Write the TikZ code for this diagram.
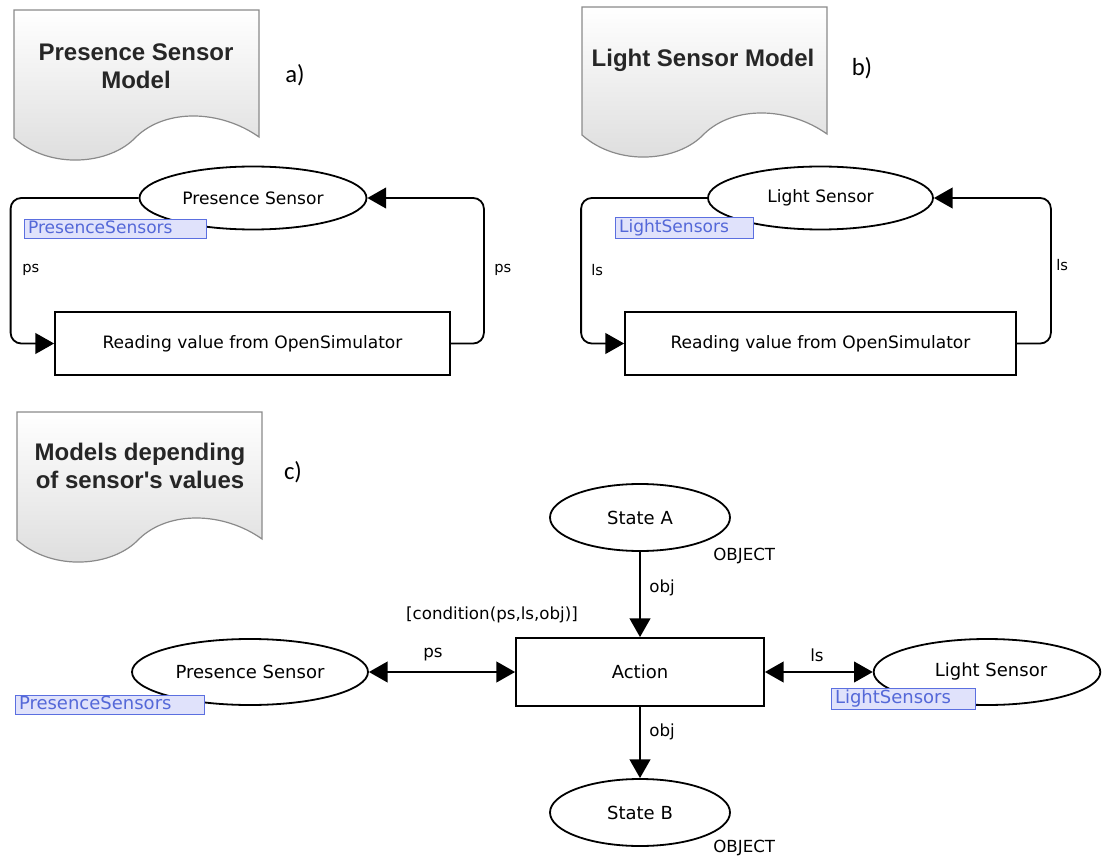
\documentclass[tikz,border=0pt]{standalone}
\usepackage{fontspec}
\setmainfont{DejaVu Sans}
\newfontfamily\titlefont{Liberation Sans}
\newfontfamily\tagfont{Carlito}
\usetikzlibrary{arrows.meta,shapes.geometric}
\definecolor{tokfill}{HTML}{E0E2FB}
\definecolor{tokline}{HTML}{5B6FE0}
\definecolor{toktext}{HTML}{5468D8}
\definecolor{docline}{HTML}{8A8A8A}
\definecolor{docshade}{HTML}{DCDCDC}

\tikzset{
  docpic/.pic={
    \draw[line width=0.9pt, draw=docline, top color=white, bottom color=docshade]
      (0,0) -- (245,0) -- (245,127)
      .. controls (207,100) and (152,98) .. (122,127)
      .. controls (96,155) and (36,160) .. (0,128) -- cycle;
  }
}

\begin{document}
\begin{tikzpicture}[x=0.75pt,y=-0.75pt,line width=1.35pt,
  place/.style={ellipse, draw, inner sep=0pt, fill=white},
  trans/.style={rectangle, draw, inner sep=0pt, fill=white},
  tok/.style={draw=tokline, fill=tokfill, line width=0.8pt, text=toktext,
    anchor=north west, inner xsep=2.6pt, inner ysep=0pt, align=left,
    text height=9.6pt, text depth=2.6pt},
  tip/.style={Triangle[length=14pt,width=15.5pt]},
  arc/.style={-{Triangle[length=14pt,width=15.5pt]}, rounded corners=8pt},
  one/.style={-{Triangle[length=14pt,width=15.5pt]}},
  dual/.style={{Triangle[length=14pt,width=15.5pt]}-{Triangle[length=14pt,width=15.5pt]}},
  fab/.style={font=\fontsize{12.8}{15}\selectfont},
  fc/.style={font=\fontsize{13.5}{16}\selectfont},
  lab/.style={font=\fontsize{11}{13}\selectfont, anchor=west},
  labc/.style={font=\fontsize{12.5}{15}\selectfont},
  title/.style={font=\titlefont\bfseries\fontsize{18}{21}\selectfont, text=black!85, align=center},
  tag/.style={font=\tagfont\fontsize{18.5}{22}\selectfont}
]
\useasboundingbox (0,0) rectangle (1103,859);

% ---------- document headers ----------
\pic at (14,10) {docpic};
\pic at (582,7) {docpic};
\pic at (17,412) {docpic};
\node[title] (tA) at (136,66) {Presence Sensor\\Model};
\node[title] (tB) at (703,60) {Light Sensor Model};
\node[title] (tC) at (140,466) {Models depending\\of sensor's values};
\node[tag] (gA) at (295,75) {a)};
\node[tag] (gB) at (862,68) {b)};
\node[tag] (gC) at (293,472) {c)};

% ---------- a) presence sensor model ----------
\node[place, fab, minimum width=170.25pt, minimum height=47.25pt] (psA) at (253,198) {Presence Sensor};
\node[trans, fab, minimum width=296.25pt, minimum height=47.25pt] (rdA) at (252.5,343.5) {Reading value from OpenSimulator};
\node[tok, fab, text width=131.3pt, minimum height=14.25pt] (tkA) at (24,219) {PresenceSensors};
\draw[arc] (psA.west) -- ++(-128,0) |- (rdA.west);
\draw[arc] (rdA.east) -- ++(33,0) |- (psA.east);
\node[lab] (pA1) at (17,270) {ps};
\node[lab] (pA2) at (489,270) {ps};

% ---------- b) light sensor model ----------
\node[place, fab, minimum width=168.75pt, minimum height=47.25pt] (lsB) at (820.5,198) {Light Sensor};
\node[trans, fab, minimum width=293.25pt, minimum height=47.25pt] (rdB) at (820.5,343.5) {Reading value from OpenSimulator};
\node[tok, fab, text width=98.3pt, minimum height=15.75pt] (tkB) at (615,217) {LightSensors};
\draw[arc] (lsB.west) -- ++(-126,0) |- (rdB.west);
\draw[arc] (rdB.east) -- ++(34,0) |- (lsB.east);
\node[lab] (lB1) at (586,270) {ls};
\node[lab] (lB2) at (1051,265) {ls};

% ---------- c) models depending on sensor values ----------
\node[place, fc, minimum width=135pt, minimum height=50.25pt] (stA) at (640,517.5) {State A};
\node[trans, fc, minimum width=186pt, minimum height=51pt] (act) at (640,672) {Action};
\node[place, fc, minimum width=177pt, minimum height=49.5pt] (psC) at (250,672) {Presence Sensor};
\node[place, fc, minimum width=170pt, minimum height=49.5pt] (lsC) at (987,672) {\hspace*{6pt}Light Sensor};
\node[place, fc, minimum width=135pt, minimum height=50.25pt] (stB) at (640,812.5) {State B};
\node[tok, fc, text width=136.5pt, minimum height=14.25pt] (tkC1) at (15,695) {PresenceSensors};
\node[tok, fc, text width=102.8pt, minimum height=15.75pt] (tkC2) at (831,688) {LightSensors};

\draw[one] (stA.south) -- (act.north);
\draw[one] (act.south) -- (stB.north);
\draw[dual] (psC.east) -- (act.west);
\draw[dual] (act.east) -- (lsC.west);

\node[labc, anchor=west] (oA) at (644,588) {obj};
\node[labc, anchor=west] (oB) at (644,732) {obj};
\node[labc] (pC) at (433,655) {ps};
\node[labc] (lC) at (817,655) {ls};
\node[labc] (cond) at (492,615) {[condition(ps,ls,obj)]};
\node[labc, anchor=west] (obA) at (708,556) {OBJECT};
\node[labc, anchor=west] (obB) at (708,848) {OBJECT};
\end{tikzpicture}
\end{document}
